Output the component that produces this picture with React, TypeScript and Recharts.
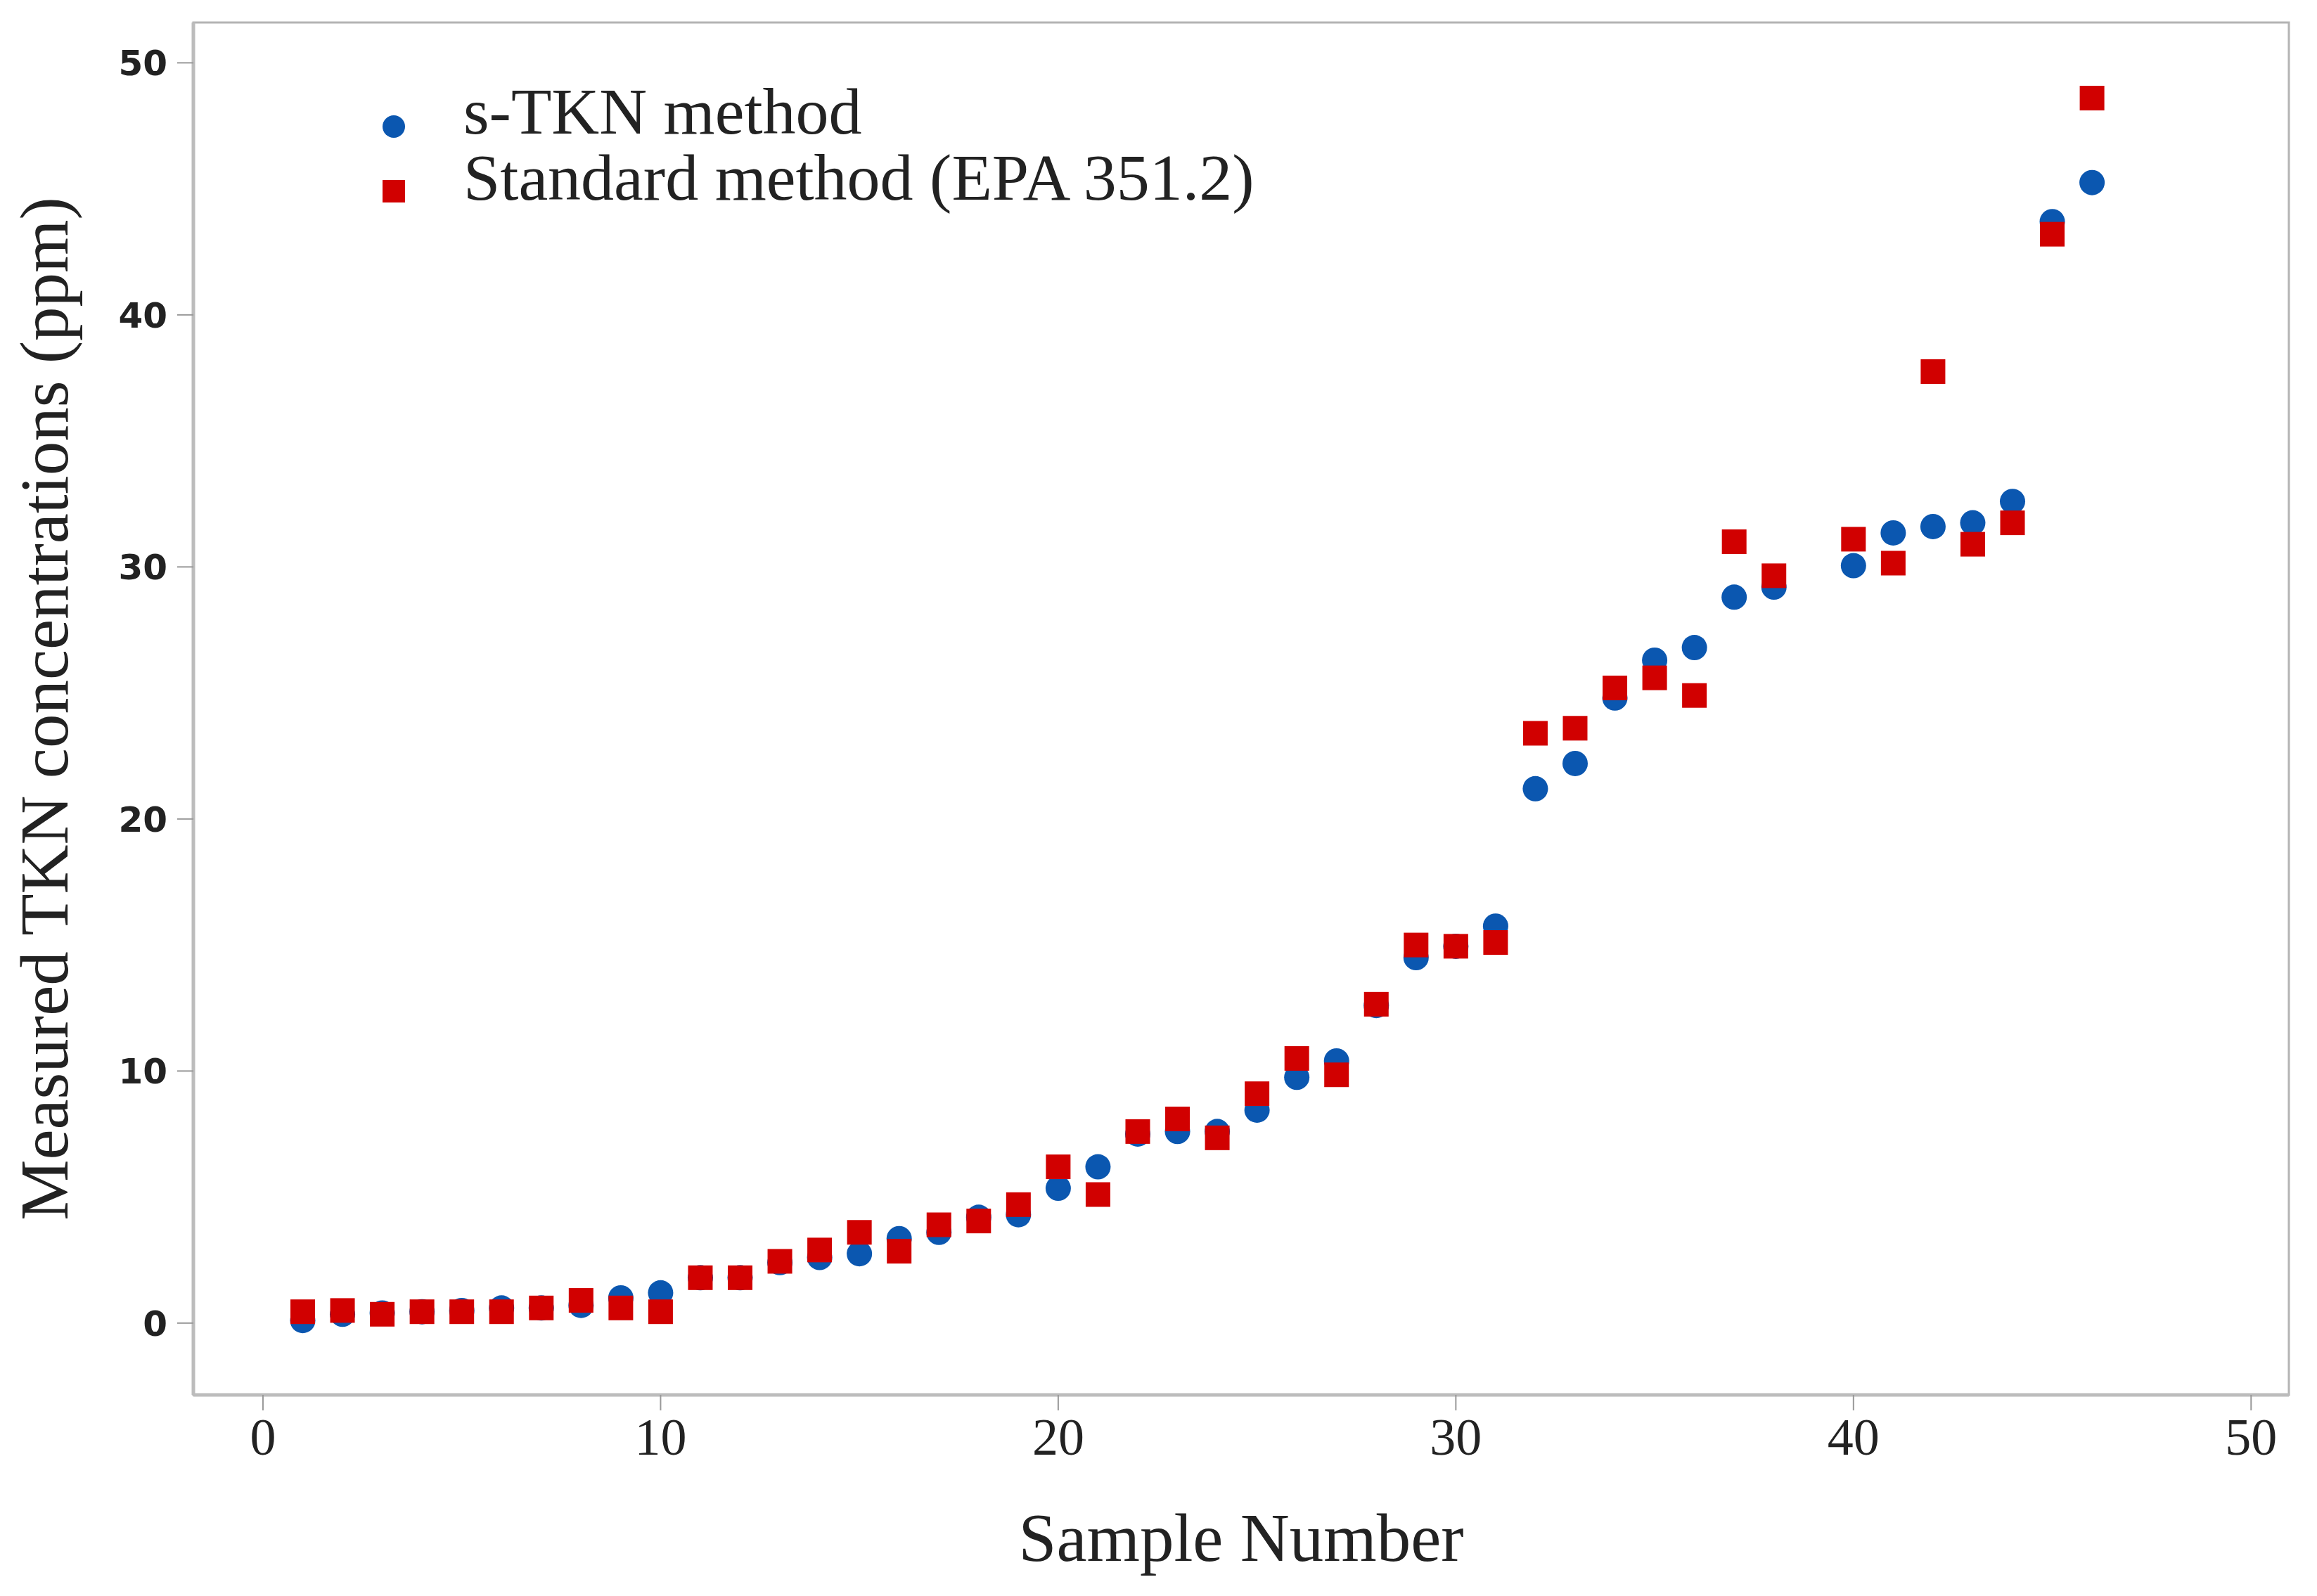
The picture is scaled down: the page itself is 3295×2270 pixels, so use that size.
import React from 'react';
import {
  ScatterChart, Scatter, XAxis, YAxis, Legend, ReferenceArea, Label,
} from 'recharts';

const samples = [1, 2, 3, 4, 5, 6, 7, 8, 9, 10, 11, 12, 13, 14, 15, 16, 17, 18, 19, 20, 21, 22, 23, 24, 25, 26, 27, 28, 29, 30, 31, 32, 33, 34, 35, 36, 37, 38, 40, 41, 42, 43, 44, 45, 46];
const sTkn = [0.1, 0.35, 0.4, 0.45, 0.5, 0.6, 0.6, 0.7, 1.0, 1.2, 1.8, 1.8, 2.4, 2.6, 2.75, 3.35, 3.6, 4.2, 4.3, 5.35, 6.2, 7.5, 7.6, 7.6, 8.45, 9.75, 10.4, 12.6, 14.5, 14.95, 15.75, 21.2, 22.2, 24.8, 26.3, 26.8, 28.8, 29.2, 30.05, 31.35, 31.6, 31.75, 32.6, 43.7, 45.25];
const standard = [0.45, 0.5, 0.35, 0.45, 0.45, 0.45, 0.6, 0.9, 0.6, 0.45, 1.8, 1.8, 2.45, 2.9, 3.6, 2.85, 3.9, 4.05, 4.7, 6.2, 5.1, 7.6, 8.1, 7.35, 9.1, 10.5, 9.85, 12.65, 15.0, 14.95, 15.1, 23.4, 23.6, 25.2, 25.6, 24.9, 31.0, 29.65, 31.1, 30.15, 37.75, 30.9, 31.75, 43.2, 48.6];
const xTicks = [0, 10, 20, 30, 40, 50];
const yTicks = [0, 10, 20, 30, 40, 50];
const seriesNames = ['s-TKN method', 'Standard method (EPA 351.2)'];

const BLUE = '#0b57b0';
const RED = '#d10000';
const SERIF = '"Liberation Serif", "Times New Roman", serif';
const X_DOMAIN: [number, number] = [-1.75, 50.95];
const Y_DOMAIN: [number, number] = [-2.85, 51.6];

const stknPoints = samples.map((s, i) => ({ x: s, y: sTkn[i] }));
const stdPoints = samples.map((s, i) => ({ x: s, y: standard[i] }));

const Dot = (p: any) => <circle cx={p.cx} cy={p.cy} r={18} fill={BLUE} />;
const Square = (p: any) => (
  <rect x={p.cx - 17.5} y={p.cy - 17.5} width={35} height={35} fill={RED} />
);

const LegendBox = () => (
  <svg width={2000} height={330}>
    <circle cx={560} cy={180} r={16} fill={BLUE} />
    <rect x={544} y={256} width={32} height={32} fill={RED} />
    <text x={659} y={190} fontFamily={SERIF} fontSize={94} fill="#222">{seriesNames[0]}</text>
    <text x={659} y={284} fontFamily={SERIF} fontSize={94} fill="#222">{seriesNames[1]}</text>
  </svg>
);

export default function App() {
  return (
    <div style={{ position: 'absolute', left: 0, top: 0, background: '#fff' }}>
      <ScatterChart
        width={3295}
        height={2270}
        margin={{ top: 32, right: 40, bottom: 50, left: 0 }}
      >
        <ReferenceArea
          x1={X_DOMAIN[0]} x2={X_DOMAIN[1]} y1={Y_DOMAIN[0]} y2={Y_DOMAIN[1]}
          fill="none" stroke="#b4b4b4" strokeWidth={3} ifOverflow="extendDomain"
        />
        <XAxis
          type="number" dataKey="x" domain={X_DOMAIN} ticks={xTicks}
          allowDataOverflow height={236}
          axisLine={{ stroke: '#bcbcbc', strokeWidth: 5 }}
          tickLine={{ stroke: '#999', strokeWidth: 2 }} tickSize={22} tickMargin={10}
          tick={{ fontFamily: SERIF, fontSize: 74, fill: '#222' }}
        >
          <Label
            value="Sample Number" position="insideBottom" offset={0}
            style={{ fontFamily: SERIF, fontSize: 97, fill: '#222' }}
          />
        </XAxis>
        <YAxis
          type="number" dataKey="y" domain={Y_DOMAIN} ticks={yTicks}
          allowDataOverflow width={275}
          axisLine={{ stroke: '#bcbcbc', strokeWidth: 5 }}
          tickLine={{ stroke: '#999', strokeWidth: 2 }} tickSize={23} tickMargin={14}
          tick={{ fontFamily: '"DejaVu Sans", sans-serif', fontWeight: 'bold', fontSize: 50, fill: '#222' }}
        >
          <Label
            value="Measured TKN concentrations (ppm)" position="insideLeft" angle={-90} offset={62}
            style={{ fontFamily: SERIF, fontSize: 97, fill: '#222', textAnchor: 'middle' }}
          />
        </YAxis>
        <Legend
          layout="vertical" align="center" verticalAlign="middle"
          content={LegendBox}
          wrapperStyle={{ left: 0, top: 0, width: 2000, height: 330 }}
        />
        <Scatter name={seriesNames[0]} data={stknPoints} fill={BLUE} shape={Dot} isAnimationActive={false} />
        <Scatter name={seriesNames[1]} data={stdPoints} fill={RED} shape={Square} isAnimationActive={false} />
      </ScatterChart>
    </div>
  );
}
